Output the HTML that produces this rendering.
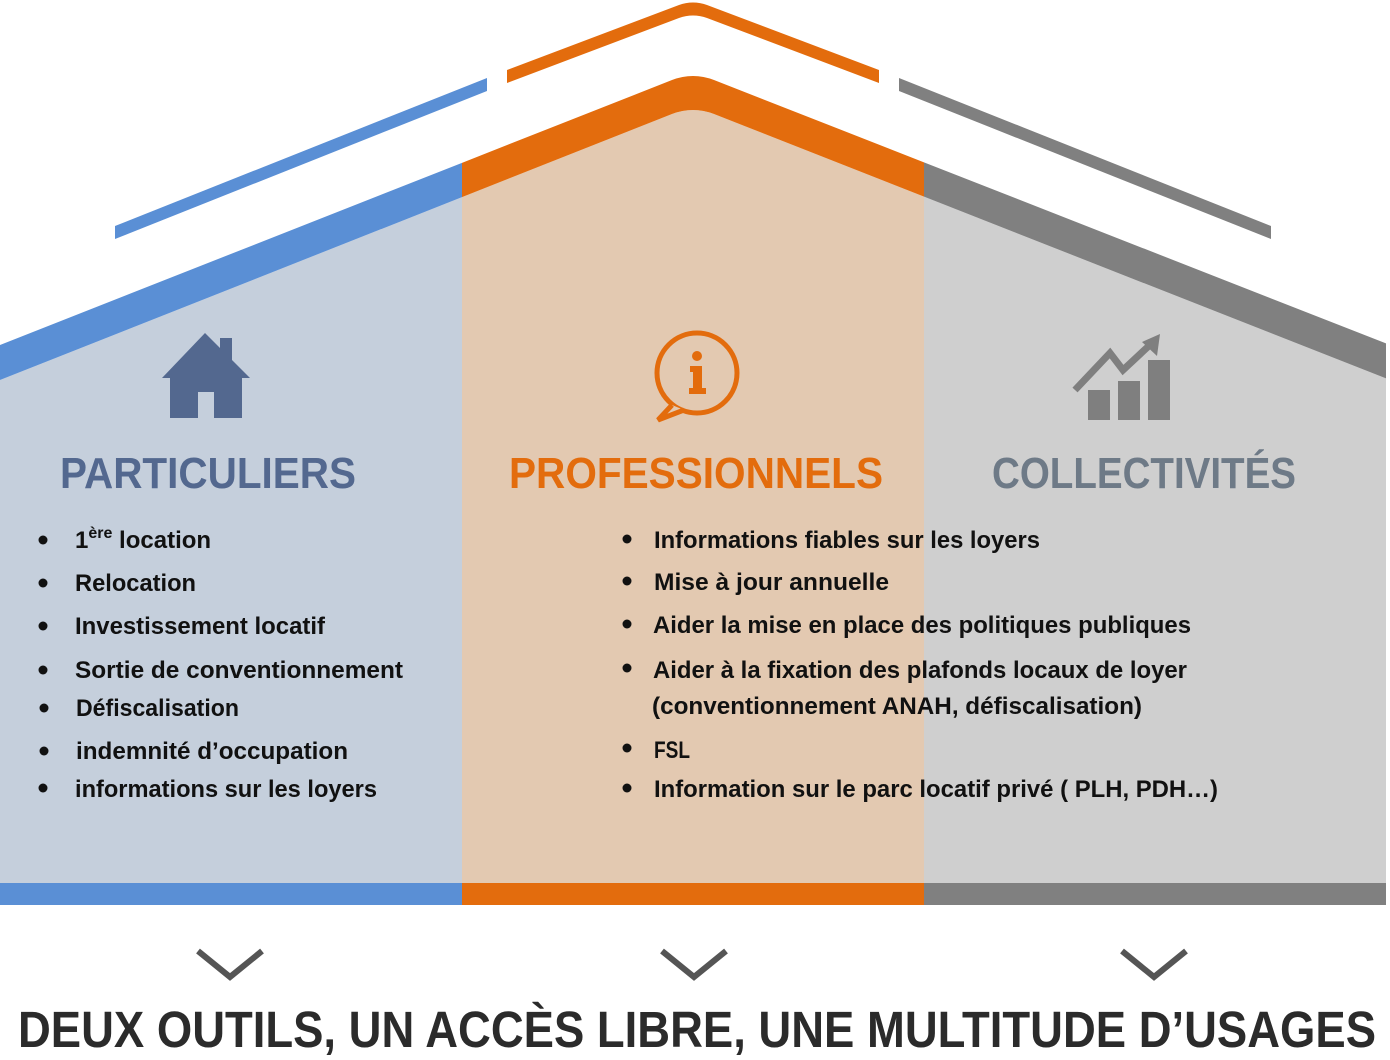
<!DOCTYPE html>
<html><head><meta charset="utf-8"><style>html,body{margin:0;padding:0;background:#fff}svg{display:block}</style></head>
<body>
<svg width="1390" height="1060" viewBox="0 0 1390 1060" xmlns="http://www.w3.org/2000/svg" font-family="'Liberation Sans', sans-serif" font-weight="bold">
<defs>
<clipPath id="cL"><rect x="0" y="0" width="462" height="1060"/></clipPath>
<clipPath id="cM"><rect x="462" y="0" width="462" height="1060"/></clipPath>
<clipPath id="cR"><rect x="924" y="0" width="462" height="1060"/></clipPath>
</defs>
<path d="M0,380 L672,114 Q693,106 714,114 L1390,380 L1390,883 L0,883 Z" fill="#c5cfdc" clip-path="url(#cL)"/>
<path d="M0,380 L672,114 Q693,106 714,114 L1390,380 L1390,883 L0,883 Z" fill="#e3c9b1" clip-path="url(#cM)"/>
<path d="M0,380 L672,114 Q693,106 714,114 L1390,380 L1390,883 L0,883 Z" fill="#cfcfcf" clip-path="url(#cR)"/>
<path d="M0,345 L672,80 Q693,72 714,80 L1390,345 L1390,380 L714,114 Q693,106 672,114 L0,380 Z" fill="#5a8fd5" clip-path="url(#cL)"/>
<path d="M0,345 L672,80 Q693,72 714,80 L1390,345 L1390,380 L714,114 Q693,106 672,114 L0,380 Z" fill="#e36c0d" clip-path="url(#cM)"/>
<path d="M0,345 L672,80 Q693,72 714,80 L1390,345 L1390,380 L714,114 Q693,106 672,114 L0,380 Z" fill="#808080" clip-path="url(#cR)"/>
<rect x="0" y="883" width="462" height="22" fill="#5a8fd5"/>
<rect x="462" y="883" width="462" height="22" fill="#e36c0d"/>
<rect x="924" y="883" width="462" height="22" fill="#808080"/>
<polygon points="115,226 487,78 487,91 115,239" fill="#5a8fd5"/>
<path d="M507,70 L679,5 Q693,0 707,5 L879,70 L879,83 L707,18 Q693,13 679,18 L507,83 Z" fill="#e36c0d"/>
<polygon points="899,78 1271,226 1271,239 899,91" fill="#808080"/>
<path d="M205,333 L250,378 L242,378 L242,418 L214,418 L214,392 L198,392 L198,418 L170,418 L170,378 L162,378 Z" fill="#53688f"/>
<rect x="220" y="338" width="12" height="30" fill="#53688f"/>
<circle cx="697" cy="373" r="40" fill="none" stroke="#e36c0d" stroke-width="5"/>
<path d="M672,405 L658,420 L684,410" fill="#e3c9b1" stroke="#e36c0d" stroke-width="5" stroke-linejoin="miter"/>
<circle cx="697" cy="356" r="5" fill="#e36c0d"/>
<path d="M690,366 L702,366 L702,388 L706,388 L706,394 L689,394 L689,388 L693,388 L693,372 L690,372 Z" fill="#e36c0d"/>
<rect x="1088" y="390" width="22" height="30" fill="#7f7f7f"/>
<rect x="1118" y="381" width="22" height="39" fill="#7f7f7f"/>
<rect x="1148" y="360" width="22" height="60" fill="#7f7f7f"/>
<polyline points="1075,390 1110,353 1123,370 1152,343" fill="none" stroke="#7f7f7f" stroke-width="7"/>
<polygon points="1160,334 1157,356 1142,342" fill="#7f7f7f"/>
<text x="60" y="488" font-size="44" fill="#53688f" textLength="296" lengthAdjust="spacingAndGlyphs">PARTICULIERS</text>
<text x="509" y="488" font-size="44" fill="#e36c0d" textLength="374" lengthAdjust="spacingAndGlyphs">PROFESSIONNELS</text>
<text x="992" y="488" font-size="44" fill="#6e7a87" textLength="304" lengthAdjust="spacingAndGlyphs">COLLECTIVITÉS</text>
<g font-size="24" fill="#111">
<circle cx="43" cy="540" r="4.5"/><text x="75" y="548">1<tspan font-size="16" dy="-10">ère</tspan><tspan dy="10"> location</tspan></text>
<circle cx="43" cy="583" r="4.5"/><text x="75" y="591" textLength="121" lengthAdjust="spacingAndGlyphs">Relocation</text>
<circle cx="43" cy="626" r="4.5"/><text x="75" y="634" textLength="250" lengthAdjust="spacingAndGlyphs">Investissement locatif</text>
<circle cx="43" cy="670" r="4.5"/><text x="75" y="678" textLength="328" lengthAdjust="spacingAndGlyphs">Sortie de conventionnement</text>
<circle cx="44" cy="708" r="4.5"/><text x="76" y="716" textLength="163" lengthAdjust="spacingAndGlyphs">Défiscalisation</text>
<circle cx="44" cy="751" r="4.5"/><text x="76" y="759" textLength="272" lengthAdjust="spacingAndGlyphs">indemnité d’occupation</text>
<circle cx="43" cy="788" r="4.5"/><text x="75" y="797" textLength="302" lengthAdjust="spacingAndGlyphs">informations sur les loyers</text>
<circle cx="627" cy="539" r="4.5"/><text x="654" y="548" textLength="386" lengthAdjust="spacingAndGlyphs">Informations fiables sur les loyers</text>
<circle cx="627" cy="581" r="4.5"/><text x="654" y="590" textLength="235" lengthAdjust="spacingAndGlyphs">Mise à jour annuelle</text>
<circle cx="627" cy="624" r="4.5"/><text x="653" y="633" textLength="538" lengthAdjust="spacingAndGlyphs">Aider la mise en place des politiques publiques</text>
<circle cx="627" cy="668" r="4.5"/><text x="653" y="678" textLength="534" lengthAdjust="spacingAndGlyphs">Aider à la fixation des plafonds locaux de loyer</text>
<text x="652" y="714" textLength="490" lengthAdjust="spacingAndGlyphs">(conventionnement ANAH, défiscalisation)</text>
<circle cx="627" cy="748" r="4.5"/><text x="654" y="758" textLength="36" lengthAdjust="spacingAndGlyphs">FSL</text>
<circle cx="627" cy="788" r="4.5"/><text x="654" y="797" textLength="564" lengthAdjust="spacingAndGlyphs">Information sur le parc locatif privé ( PLH, PDH…)</text>
</g>
<g fill="none" stroke="#555" stroke-width="6">
<polyline points="198,951 230,977 262,951"/>
<polyline points="662,951 694,977 726,951"/>
<polyline points="1122,951 1154,977 1186,951"/>
</g>
<text x="18" y="1047" font-size="51" fill="#2b2b2b" textLength="1358" lengthAdjust="spacingAndGlyphs">DEUX OUTILS, UN ACCÈS LIBRE, UNE MULTITUDE D’USAGES</text>
</svg>
</body></html>
